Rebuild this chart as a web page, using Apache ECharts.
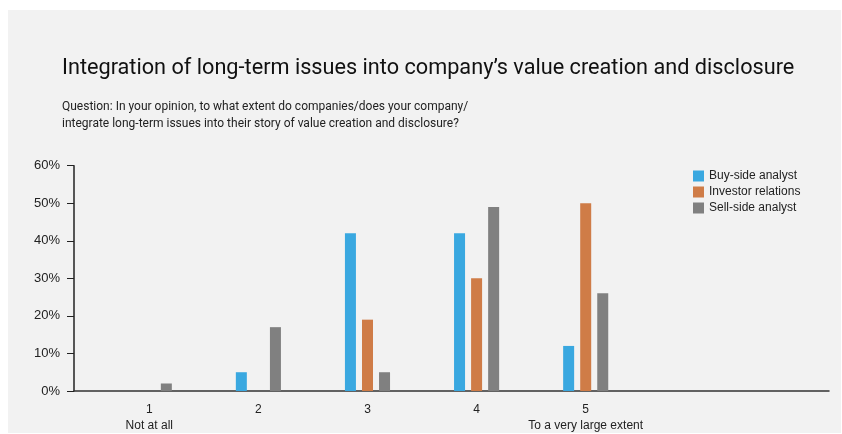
<!DOCTYPE html>
<html>
<head>
<meta charset="utf-8">
<script src="https://cdn.jsdelivr.net/npm/echarts@6/dist/echarts.min.js"></script>
<style>
    html, body { margin: 0; padding: 0; background: #fff; }
    #panel { position: absolute; left: 8px; top: 10px; width: 833px; height: 423px; background: #f2f2f2; }
    #chart { position: absolute; left: 0; top: 0; width: 842px; height: 434px; }
</style>
</head>
<body>
<div id="panel"></div>
<div id="chart"></div>
<script>
/**
 * desc: 数据
 */
var positions = [1, 2, 3, 4, 5]
var xLabels = ['1\nNot at all', '2', '3', '4', '5\nTo a very large extent']
var seriesNames = ['Buy-side analyst', 'Investor relations', 'Sell-side analyst']
var buySide = [0, 5, 42, 42, 12]
var investorRel = [0, 0, 19, 30, 50]
var sellSide = [2, 17, 5, 49, 26]
var yTicks = [0, 10, 20, 30, 40, 50, 60]
var colors = ['#3aa8e0', '#cf7c47', '#808080']

var titleFont = 'Roboto, "Liberation Sans", sans-serif'
var bodyFont = '"Liberation Sans", Arial, sans-serif'

function pairs(arr){
    return arr.map(function(v, i){ return [positions[i], v] })
}

var chart = echarts.init(document.getElementById('chart'))
var option = {
    backgroundColor: 'transparent',
    animation: false,
    title: {
        text: 'Integration of long-term issues into company’s value creation and disclosure',
        subtext: 'Question: In your opinion, to what extent do companies/does your company/\nintegrate long-term issues into their story of value creation and disclosure?',
        left: 57,
        top: 53,
        itemGap: 18,
        textStyle: {
            fontFamily: titleFont,
            fontSize: 21.7,
            fontWeight: 'normal',
            color: '#111'
        },
        subtextStyle: {
            fontFamily: titleFont,
            fontSize: 12,
            lineHeight: 17,
            color: '#222'
        }
    },
    legend: {
        orient: 'vertical',
        left: 688,
        top: 165,
        icon: 'rect',
        itemWidth: 11,
        itemHeight: 11,
        itemGap: 4,
        textStyle: { fontFamily: bodyFont, fontSize: 12, color: '#222' },
        data: seriesNames
    },
    grid: {
        left: 74,
        right: 13,
        top: 165.7,
        bottom: 39.7
    },
    xAxis: {
        type: 'value',
        min: 0.31,
        max: 7.23,
        splitLine: { show: false },
        axisTick: { show: false },
        axisLine: { show: true, lineStyle: { color: '#333', width: 1.5 } },
        axisLabel: {
            customValues: positions,
            formatter: function(v){ return xLabels[positions.indexOf(v)] },
            fontFamily: bodyFont,
            fontSize: 12,
            lineHeight: 16,
            color: '#222',
            margin: 11
        }
    },
    yAxis: {
        type: 'value',
        min: yTicks[0],
        max: yTicks[yTicks.length - 1],
        interval: 10,
        splitLine: { show: false },
        axisLine: { show: true, lineStyle: { color: '#222', width: 1.5 } },
        axisTick: { show: true, length: 7, lineStyle: { color: '#222', width: 1 } },
        axisLabel: {
            formatter: '{value}%',
            fontFamily: bodyFont,
            fontSize: 13,
            color: '#222',
            margin: 14
        }
    },
    series: [
        { name: seriesNames[0], type: 'bar', barWidth: 11, barGap: '55%', data: pairs(buySide), itemStyle: { color: colors[0] } },
        { name: seriesNames[1], type: 'bar', barWidth: 11, barGap: '55%', data: pairs(investorRel), itemStyle: { color: colors[1] } },
        { name: seriesNames[2], type: 'bar', barWidth: 11, barGap: '55%', data: pairs(sellSide), itemStyle: { color: colors[2] } }
    ]
}
chart.setOption(option)
</script>
</body>
</html>
